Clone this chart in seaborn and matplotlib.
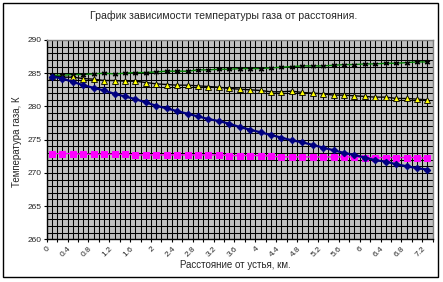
import numpy as np
import pandas as pd
import seaborn as sns
import matplotlib
matplotlib.use("Agg")
import matplotlib.pyplot as plt
from matplotlib.patches import Rectangle

# ---- data ----
distance = [0, 0.2, 0.4, 0.6, 0.8, 1, 1.2, 1.4, 1.6, 1.8, 2, 2.2, 2.4, 2.6, 2.8,
            3, 3.2, 3.4, 3.6, 3.8, 4, 4.2, 4.4, 4.6, 4.8, 5, 5.2, 5.4, 5.6, 5.8,
            6, 6.2, 6.4, 6.6, 6.8, 7, 7.2]

temp_green = [284.7, 284.7, 284.8, 284.8, 284.9, 285.0, 284.9, 285.0, 285.1, 285.1,
              285.2, 285.3, 285.3, 285.3, 285.5, 285.5, 285.6, 285.6, 285.7, 285.7,
              285.7, 285.8, 285.9, 286.0, 286.1, 286.1, 286.1, 286.2, 286.3, 286.3,
              286.4, 286.4, 286.5, 286.5, 286.6, 286.7, 286.7]

temp_yellow = [284.6, 284.4, 284.4, 284.2, 284.1, 283.9, 283.9, 283.8, 283.8, 283.6,
               283.4, 283.3, 283.2, 283.2, 283.1, 283.0, 282.9, 282.7, 282.6, 282.5,
               282.4, 282.2, 282.2, 282.3, 282.1, 282.0, 281.9, 281.7, 281.7, 281.6,
               281.5, 281.4, 281.4, 281.2, 281.2, 281.1, 281.0]

temp_navy = [284.5, 284.2, 283.7, 283.2, 282.8, 282.4, 281.9, 281.5, 281.1, 280.6,
             280.1, 279.7, 279.3, 278.9, 278.5, 278.1, 277.8, 277.4, 276.9, 276.5,
             276.1, 275.7, 275.3, 274.9, 274.6, 274.2, 273.8, 273.4, 273.0, 272.7,
             272.3, 271.9, 271.7, 271.3, 271.0, 270.7, 270.5]

temp_pink = [272.9, 272.9, 272.9, 272.8, 272.8, 272.8, 272.8, 272.8, 272.7, 272.7,
             272.7, 272.7, 272.7, 272.7, 272.7, 272.7, 272.7, 272.6, 272.6, 272.6,
             272.6, 272.5, 272.4, 272.4, 272.4, 272.4, 272.4, 272.4, 272.4, 272.4,
             272.3, 272.3, 272.3, 272.3, 272.3, 272.3, 272.2]

y_ticks = [260, 265, 270, 275, 280, 285, 290]

title = "График зависимости температуры газа от расстояния."
xlabel = "Расстояние от устья, км."
ylabel = "Температура газа, К"

# ---- figure ----
sns.set_theme(style="white")
plt.rcParams['font.family'] = ['Liberation Sans', 'DejaVu Sans']

W, H = 443, 282
fig = plt.figure(figsize=(W / 100, H / 100), dpi=100)
fig.patch.set_facecolor("white")

# chart frame
fig.patches.append(Rectangle((3 / W, (H - 277) / H), 435 / W, 274 / H,
                             transform=fig.transFigure, fill=False,
                             edgecolor="black", linewidth=1.0, zorder=0))

left, right, top, bottom = 46.7, 432.7, 40.0, 239.3
ax = fig.add_axes([left / W, 1 - bottom / H, (right - left) / W, (bottom - top) / H])
ax.set_facecolor("#C0C0C0")

idx = np.arange(len(distance))
df = pd.DataFrame({"idx": idx, "green": temp_green, "yellow": temp_yellow,
                   "navy": temp_navy, "pink": temp_pink})

sns.lineplot(data=df, x="idx", y="green", ax=ax, color="#008000", linewidth=1.0,
             marker=(6, 2, 0), markersize=4.0, markeredgecolor="black",
             markeredgewidth=0.9, zorder=3)
sns.lineplot(data=df, x="idx", y="yellow", ax=ax, color="black", linewidth=1.0,
             marker="^", markersize=4.2, markerfacecolor="#FFFF00",
             markeredgecolor="black", markeredgewidth=0.6, zorder=3)
sns.lineplot(data=df, x="idx", y="pink", ax=ax, color="#FF00FF", linewidth=1.0,
             marker="s", markersize=4.0, markerfacecolor="#FF00FF",
             markeredgecolor="#FF00FF", zorder=3)
sns.lineplot(data=df, x="idx", y="navy", ax=ax, color="#000080", linewidth=1.6,
             marker="D", markersize=3.3, markerfacecolor="#000080",
             markeredgecolor="#000080", zorder=4)

ax.set_xlim(-0.5, len(distance) - 0.5)
ax.set_ylim(260, 290)

# gridlines
for v in np.arange(-0.5, len(distance) - 0.49, 0.5):
    ax.axvline(v, color="black", linewidth=0.75, zorder=1)
for t in range(260, 291):
    ax.axhline(t, color="black", linewidth=0.75, zorder=1)

# x ticks at category boundaries, labels every second category
bounds = np.arange(len(distance) + 1) - 0.5
labels = []
for k in range(len(distance) + 1):
    if k < len(distance) and k % 2 == 0:
        d = distance[k]
        labels.append(str(int(d)) if float(d).is_integer() else str(d))
    else:
        labels.append("")
ax.set_xticks(bounds)
ax.set_xticklabels(labels, rotation=45, ha="right", rotation_mode="anchor",
                   fontsize=6)
ax.set_yticks(y_ticks)
ax.set_yticklabels([str(v) for v in y_ticks], fontsize=6)
ax.tick_params(axis="x", direction="out", length=2.5, width=0.8, pad=2,
               color="black", bottom=True)
ax.tick_params(axis="y", direction="out", length=2.5, width=0.8, pad=1.5,
               color="black", left=True)
ax.set_xlabel("")
ax.set_ylabel("")

for s in ["left", "bottom"]:
    ax.spines[s].set_color("black")
    ax.spines[s].set_linewidth(1.0)
for s in ["top", "right"]:
    ax.spines[s].set_color("#808080")
    ax.spines[s].set_linewidth(1.0)
    ax.spines[s].set_visible(True)

fig.text(224 / W, 1 - 16 / H, title, ha="center", va="center", fontsize=7.6)
fig.text(235 / W, 1 - 265 / H, xlabel, ha="center", va="center", fontsize=7)
fig.text(17 / W, 1 - 142 / H, ylabel, ha="center", va="center", rotation=90,
         fontsize=7)

fig.savefig("out.png", dpi=100)
